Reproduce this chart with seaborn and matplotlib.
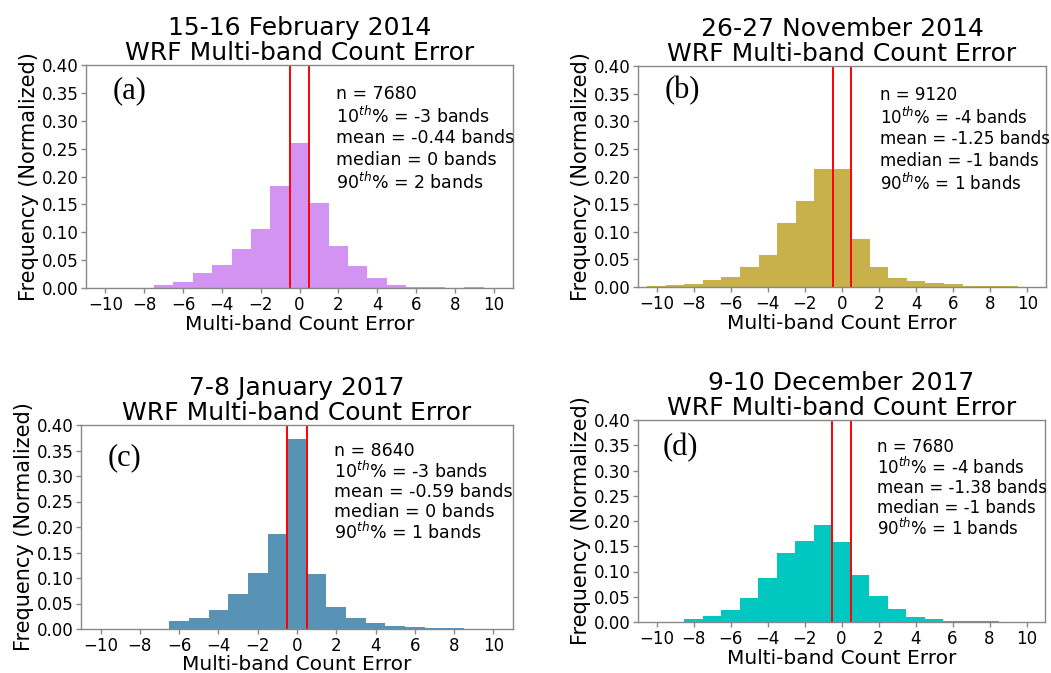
import numpy as np
import pandas as pd
import matplotlib
matplotlib.use("Agg")
import matplotlib.pyplot as plt
import seaborn as sns

# Normalized frequency of the multi-band count error, one array per case
err_a = list(range(-7, 8)) + [9]
freq_a = [0.005, 0.011, 0.027, 0.041, 0.070, 0.106, 0.183, 0.260, 0.153,
          0.075, 0.040, 0.018, 0.006, 0.002, 0.001, 0.001]

err_b = list(range(-10, 10))
freq_b = [0.002, 0.004, 0.005, 0.013, 0.019, 0.037, 0.058, 0.116, 0.155, 0.213,
          0.214, 0.087, 0.037, 0.016, 0.011, 0.007, 0.005, 0.002, 0.002, 0.001]

err_c = list(range(-6, 9))
freq_c = [0.016, 0.022, 0.037, 0.069, 0.109, 0.187, 0.373, 0.108, 0.043,
          0.021, 0.011, 0.005, 0.003, 0.001, 0.001]

err_d = list(range(-8, 9))
freq_d = [0.005, 0.011, 0.024, 0.048, 0.088, 0.136, 0.160, 0.192, 0.159,
          0.094, 0.051, 0.025, 0.010, 0.006, 0.002, 0.002, 0.001]

titles = ["15-16 February 2014", "26-27 November 2014",
          "7-8 January 2017", "9-10 December 2017"]
panel_tags = ["(a)", "(b)", "(c)", "(d)"]
n_obs = [7680, 9120, 8640, 7680]
p10 = [-3, -4, -3, -4]
means = ["-0.44", "-1.25", "-0.59", "-1.38"]
medians = [0, -1, 0, -1]
p90 = [2, 1, 1, 1]
colors = ["#D293F2", "#C8B04B", "#5892B4", "#00C8C0"]

xticks = list(range(-10, 11, 2))
yticks = [0.0, 0.05, 0.10, 0.15, 0.20, 0.25, 0.30, 0.35, 0.40]

sns.set_theme(style="ticks")
plt.rcParams["font.family"] = ["DejaVu Sans"]
plt.rcParams["mathtext.fontset"] = "dejavusans"
for key in ("text.color", "axes.labelcolor", "xtick.labelcolor",
            "ytick.labelcolor"):
    plt.rcParams[key] = "black"

W, H = 1051, 673
fig = plt.figure(figsize=(W / 100, H / 100), dpi=100)

# axes boxes in pixels: left, right, top, bottom
boxes = [(86, 513, 65, 288), (638, 1046, 66, 287),
         (81, 513, 425, 629), (638, 1045, 420, 622)]
# stats block: left edge (axes fraction), first line centre (pixels), line step
stat_x = [0.585, 0.593, 0.586, 0.587]
stat_top = [92, 93, 449, 445]
line_step = [22, 22, 20.3, 20.3]
stat_size = [12.5, 12.0, 12.5, 12.0]
tag_pos = [(0.063, 0.95), (0.066, 0.953), (0.0625, 0.91), (0.061, 0.935)]
xlabel_pad = [1, 1, 0, 1]

data = [(err_a, freq_a), (err_b, freq_b), (err_c, freq_c), (err_d, freq_d)]

for i, ((errs, freqs), (l, r, t, b)) in enumerate(zip(data, boxes)):
    ax = fig.add_axes([l / W, (H - b) / H, (r - l) / W, (b - t) / H])
    df = pd.DataFrame({"error": errs, "freq": freqs})
    sns.histplot(data=df, x="error", weights="freq", discrete=True,
                 stat="count", color=colors[i], alpha=1.0, linewidth=0,
                 ax=ax)
    ax.axvline(-0.5, color="red", lw=1.4)
    ax.axvline(0.5, color="red", lw=1.4)
    ax.set_xlim(-11, 11)
    ax.set_ylim(0, 0.40)
    ax.set_xticks(xticks)
    ax.set_yticks(yticks)
    ax.set_yticklabels([f"{v:.2f}" for v in yticks])
    ax.tick_params(labelsize=12, color="#888888", length=3.5, width=1,
                   pad=2)
    for s in ax.spines.values():
        s.set_color("#888888")
        s.set_linewidth(1.0)
    ax.set_xlabel("Multi-band Count Error", fontsize=14.5,
                  labelpad=xlabel_pad[i])
    ax.set_ylabel("Frequency (Normalized)", fontsize=15, labelpad=2)
    ax.set_title(f"{titles[i]}\nWRF Multi-band Count Error", fontsize=18,
                 pad=3, linespacing=1.05)

    lines = [f"n = {n_obs[i]}",
             f"$10^{{th}}$% = {p10[i]} bands",
             f"mean = {means[i]} bands",
             f"median = {medians[i]} bands",
             f"$90^{{th}}$% = {p90[i]} bands"]
    hpx = b - t
    for k, txt in enumerate(lines):
        ypix = stat_top[i] + k * line_step[i]
        ax.text(stat_x[i], (b - ypix) / hpx, txt, transform=ax.transAxes,
                ha="left", va="center_baseline", fontsize=stat_size[i])
    ax.text(tag_pos[i][0], tag_pos[i][1], panel_tags[i],
            transform=ax.transAxes, ha="left", va="top", fontsize=22,
            family=["Liberation Serif", "DejaVu Serif"])

fig.savefig("out.png", dpi=100)
